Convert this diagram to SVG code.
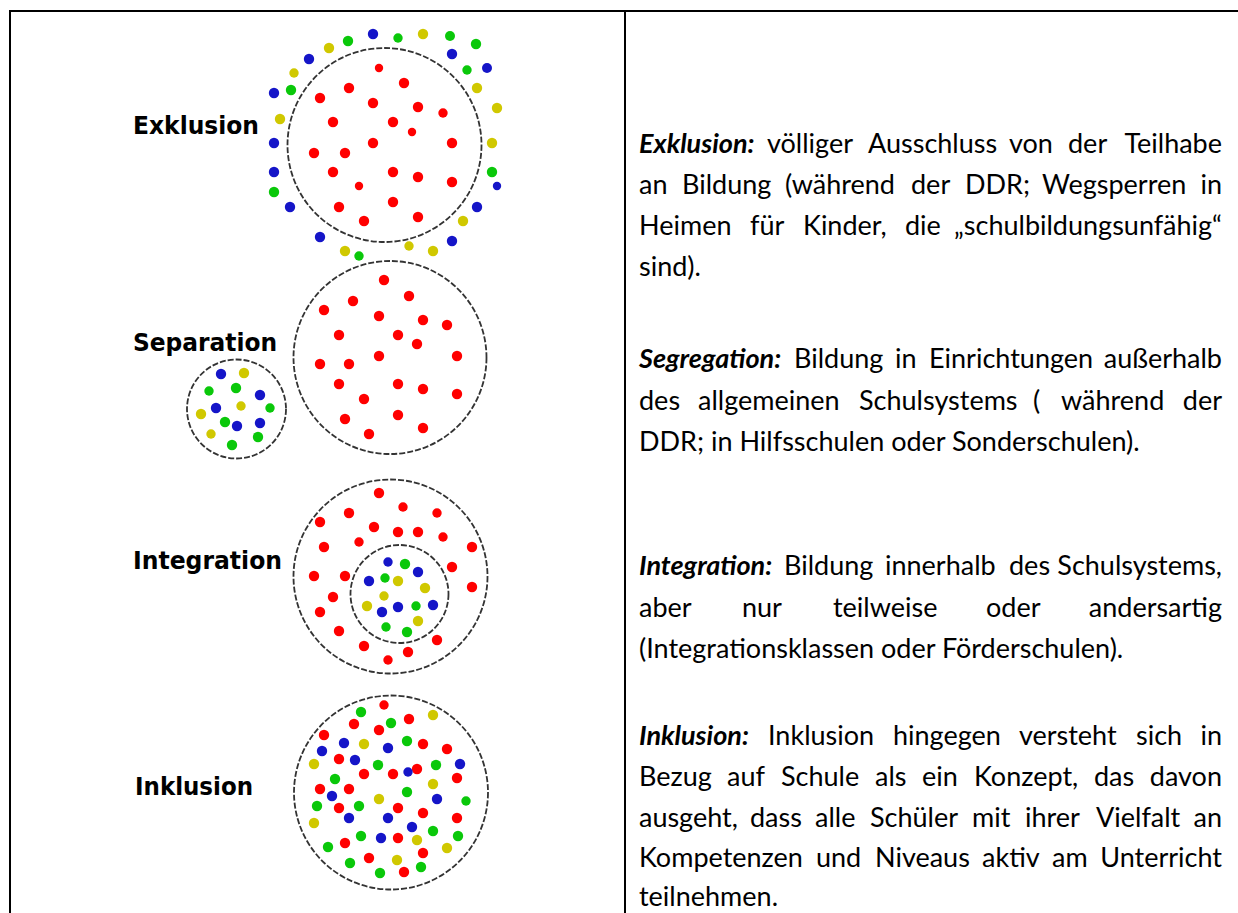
<svg xmlns="http://www.w3.org/2000/svg" width="1238" height="913" viewBox="0 0 1238 913">
<style>
.r{fill:#ff0000}.b{fill:#1515c8}.g{fill:#0ac80a}.y{fill:#d0c800}
.ring{fill:none;stroke:#333;stroke-width:1.8;stroke-dasharray:6 2}
.lbl{font-family:"DejaVu Sans","Liberation Sans",sans-serif;font-weight:bold;font-size:24px;fill:#000}
.t{font-family:Lato,"Open Sans","Liberation Sans",sans-serif;font-size:27px;fill:#000}
.bi{font-weight:bold;font-style:italic}
.grid{stroke:#000;stroke-width:2;fill:none}
</style>
<g id="table" class="grid">
<path d="M9 11H1238M10 10V913M625 10V913"/>
</g>
<g id="connectors"></g>

<g id="exklusion">
<text class="lbl" x="133" y="134" textLength="126" lengthAdjust="spacingAndGlyphs">Exklusion</text>
<circle class="ring" cx="384.5" cy="145" r="97"/>
<g>
<circle class="b" cx="373" cy="34" r="5.2"/><circle class="b" cx="309" cy="59" r="5.2"/><circle class="b" cx="274" cy="93" r="5.2"/><circle class="b" cx="274" cy="143" r="5.2"/><circle class="b" cx="274" cy="172" r="5.2"/><circle class="b" cx="290" cy="207" r="5.2"/><circle class="b" cx="320" cy="237" r="5.2"/><circle class="b" cx="452" cy="54" r="5.2"/><circle class="b" cx="487" cy="68" r="5"/><circle class="b" cx="497" cy="186" r="4.2"/><circle class="b" cx="477" cy="207" r="5.2"/><circle class="b" cx="452" cy="241" r="5.2"/>
<circle class="g" cx="348" cy="41" r="5.2"/><circle class="g" cx="291" cy="90" r="5.2"/><circle class="g" cx="274" cy="192" r="5.2"/><circle class="g" cx="359" cy="256" r="4.7"/><circle class="g" cx="398" cy="38" r="4.7"/><circle class="g" cx="450" cy="36" r="5"/><circle class="g" cx="476" cy="44" r="5.2"/><circle class="g" cx="467" cy="70" r="4.7"/><circle class="g" cx="492" cy="172" r="5.2"/>
<circle class="y" cx="329" cy="48" r="5.2"/><circle class="y" cx="294" cy="73" r="4.7"/><circle class="y" cx="280" cy="119" r="5.2"/><circle class="y" cx="345" cy="251" r="5.2"/><circle class="y" cx="423" cy="34" r="5.2"/><circle class="y" cx="477" cy="88" r="5.2"/><circle class="y" cx="497" cy="108" r="5.2"/><circle class="y" cx="492" cy="143" r="5.2"/><circle class="y" cx="463" cy="221" r="5.2"/><circle class="y" cx="433" cy="251" r="5.2"/><circle class="y" cx="409" cy="246" r="4.7"/>
<circle class="r" cx="379" cy="68" r="4.2"/><circle class="r" cx="404" cy="83" r="5.2"/><circle class="r" cx="349" cy="88" r="5.2"/><circle class="r" cx="320" cy="98" r="5.2"/><circle class="r" cx="373" cy="103" r="5.2"/><circle class="r" cx="418" cy="107" r="5.2"/><circle class="r" cx="443" cy="113" r="4.7"/><circle class="r" cx="333" cy="122" r="5.2"/><circle class="r" cx="393" cy="122" r="5.2"/><circle class="r" cx="412" cy="132" r="4.2"/><circle class="r" cx="373" cy="143" r="5.2"/><circle class="r" cx="452" cy="143" r="5.2"/><circle class="r" cx="314" cy="153" r="5.2"/><circle class="r" cx="345" cy="153" r="5.2"/><circle class="r" cx="333" cy="172" r="5.2"/><circle class="r" cx="393" cy="172" r="5.2"/><circle class="r" cx="418" cy="177" r="5.2"/><circle class="r" cx="452" cy="182" r="5.2"/><circle class="r" cx="359" cy="186" r="4.2"/><circle class="r" cx="339" cy="207" r="5.2"/><circle class="r" cx="393" cy="202" r="5.2"/><circle class="r" cx="364" cy="221" r="5.2"/><circle class="r" cx="418" cy="217" r="5.2"/>
</g>
</g>

<g id="separation">
<text class="lbl" x="133" y="351" textLength="144" lengthAdjust="spacingAndGlyphs">Separation</text>
<circle class="ring" cx="390" cy="357.5" r="96.5"/>
<circle class="ring" cx="236.5" cy="409" r="49.5"/>
<g>
<circle class="r" cx="384" cy="280" r="5.2"/><circle class="r" cx="353" cy="301" r="5.2"/><circle class="r" cx="409" cy="296" r="5.2"/><circle class="r" cx="324" cy="310" r="5.2"/><circle class="r" cx="379" cy="316" r="5.2"/><circle class="r" cx="423" cy="320" r="5.2"/><circle class="r" cx="447" cy="325" r="5.2"/><circle class="r" cx="339" cy="335" r="5.2"/><circle class="r" cx="398" cy="335" r="5.2"/><circle class="r" cx="417" cy="344" r="5.2"/><circle class="r" cx="379" cy="356" r="5.2"/><circle class="r" cx="457" cy="356" r="5.2"/><circle class="r" cx="320" cy="364" r="5.2"/><circle class="r" cx="349" cy="364" r="5.2"/><circle class="r" cx="339" cy="384" r="5.2"/><circle class="r" cx="398" cy="384" r="5.2"/><circle class="r" cx="423" cy="389" r="5.2"/><circle class="r" cx="457" cy="394" r="5.2"/><circle class="r" cx="364" cy="399" r="5.2"/><circle class="r" cx="345" cy="419" r="5.2"/><circle class="r" cx="398" cy="415" r="5.2"/><circle class="r" cx="423" cy="428" r="5.2"/><circle class="r" cx="369" cy="434" r="5.2"/>
<circle class="b" cx="221" cy="374" r="5.2"/><circle class="y" cx="244" cy="373" r="5.2"/><circle class="g" cx="209" cy="391" r="4.7"/><circle class="g" cx="236" cy="388" r="5.2"/><circle class="b" cx="260" cy="395" r="5.2"/><circle class="b" cx="216" cy="408" r="5.2"/><circle class="y" cx="241" cy="406" r="4.7"/><circle class="g" cx="270" cy="408" r="4.7"/><circle class="y" cx="201" cy="414" r="5.2"/><circle class="g" cx="225" cy="422" r="5.2"/><circle class="b" cx="237" cy="426" r="5.2"/><circle class="b" cx="260" cy="423" r="5.2"/><circle class="y" cx="211" cy="434" r="4.7"/><circle class="g" cx="258" cy="437" r="5.2"/><circle class="g" cx="232" cy="445" r="5.2"/>
</g>
</g>

<g id="integration">
<text class="lbl" x="133" y="569" textLength="149" lengthAdjust="spacingAndGlyphs">Integration</text>
<circle class="ring" cx="390.5" cy="576.5" r="97"/>
<circle class="ring" cx="399.5" cy="594" r="49"/>
<g>
<circle class="r" cx="379" cy="493" r="5.2"/><circle class="r" cx="349" cy="513" r="5.2"/><circle class="r" cx="403" cy="507" r="4.7"/><circle class="r" cx="437" cy="513" r="4.7"/><circle class="r" cx="320" cy="522" r="5.2"/><circle class="r" cx="374" cy="527" r="5.2"/><circle class="r" cx="398" cy="532" r="5.2"/><circle class="r" cx="418" cy="532" r="5.2"/><circle class="r" cx="443" cy="537" r="4.7"/><circle class="r" cx="359" cy="542" r="4.7"/><circle class="r" cx="324" cy="547" r="5.2"/><circle class="r" cx="472" cy="547" r="5.2"/><circle class="r" cx="452" cy="567" r="5.2"/><circle class="r" cx="314" cy="576" r="5.2"/><circle class="r" cx="345" cy="576" r="5.2"/><circle class="r" cx="472" cy="587" r="5.2"/><circle class="r" cx="333" cy="597" r="5.2"/><circle class="r" cx="320" cy="612" r="5.2"/><circle class="r" cx="339" cy="631" r="5.2"/><circle class="r" cx="437" cy="640" r="5.2"/><circle class="r" cx="364" cy="646" r="5.2"/><circle class="r" cx="408" cy="652" r="5.2"/><circle class="r" cx="388" cy="660" r="4.7"/>
<circle class="b" cx="388" cy="562" r="4.7"/><circle class="g" cx="405" cy="564" r="5.2"/><circle class="b" cx="418" cy="572" r="5.2"/><circle class="b" cx="369" cy="581" r="5.2"/><circle class="g" cx="385" cy="578" r="4.7"/><circle class="y" cx="398" cy="581" r="5.2"/><circle class="y" cx="425" cy="588" r="5.2"/><circle class="y" cx="384" cy="596" r="4.7"/><circle class="y" cx="367" cy="606" r="5.2"/><circle class="b" cx="398" cy="607" r="5.2"/><circle class="g" cx="416" cy="606" r="4.7"/><circle class="b" cx="433" cy="605" r="5.2"/><circle class="b" cx="382" cy="612" r="5.2"/><circle class="y" cx="418" cy="621" r="5.2"/><circle class="g" cx="386" cy="627" r="4.7"/><circle class="g" cx="407" cy="632" r="5.2"/>
</g>
</g>

<g id="inklusion">
<text class="lbl" x="135" y="795" textLength="118" lengthAdjust="spacingAndGlyphs">Inklusion</text>
<circle class="ring" cx="391" cy="792.5" r="97"/>
<g>
<circle class="g" cx="361" cy="712" r="5.2"/><circle class="r" cx="384" cy="705" r="4.7"/><circle class="r" cx="354" cy="724" r="5.2"/><circle class="g" cx="391" cy="723" r="5.2"/><circle class="r" cx="409" cy="719" r="5.2"/><circle class="y" cx="433" cy="715" r="5.2"/><circle class="r" cx="324" cy="735" r="5.2"/><circle class="r" cx="379" cy="730" r="5.2"/><circle class="b" cx="344" cy="743" r="5.2"/><circle class="y" cx="364" cy="744" r="5.2"/><circle class="g" cx="407" cy="741" r="5.2"/><circle class="r" cx="423" cy="744" r="5.2"/><circle class="r" cx="447" cy="749" r="5.2"/><circle class="b" cx="322" cy="751" r="5.2"/><circle class="b" cx="388" cy="748" r="5.2"/><circle class="r" cx="339" cy="759" r="5.2"/><circle class="b" cx="355" cy="760" r="5.2"/><circle class="y" cx="314" cy="764" r="5.2"/><circle class="g" cx="378" cy="765" r="5.2"/><circle class="b" cx="460" cy="764" r="5.2"/><circle class="g" cx="436" cy="765" r="5.2"/><circle class="r" cx="417" cy="769" r="5.2"/><circle class="b" cx="408" cy="772" r="4.7"/><circle class="r" cx="364" cy="774" r="5.2"/><circle class="r" cx="393" cy="774" r="5.2"/><circle class="r" cx="457" cy="778" r="5.2"/><circle class="g" cx="335" cy="779" r="5.2"/><circle class="y" cx="433" cy="784" r="5.2"/><circle class="r" cx="320" cy="789" r="5.2"/><circle class="r" cx="349" cy="789" r="5.2"/><circle class="b" cx="332" cy="796" r="5.2"/><circle class="g" cx="407" cy="792" r="5.2"/><circle class="b" cx="437" cy="799" r="5.2"/><circle class="y" cx="379" cy="799" r="5.2"/><circle class="g" cx="466" cy="801" r="4.7"/><circle class="g" cx="317" cy="806" r="5.2"/><circle class="r" cx="339" cy="808" r="5.2"/><circle class="g" cx="359" cy="806" r="5.2"/><circle class="r" cx="398" cy="808" r="5.2"/><circle class="r" cx="423" cy="813" r="5.2"/><circle class="b" cx="349" cy="818" r="5.2"/><circle class="b" cx="388" cy="818" r="5.2"/><circle class="r" cx="457" cy="818" r="5.2"/><circle class="y" cx="314" cy="823" r="5.2"/><circle class="b" cx="412" cy="827" r="5.2"/><circle class="g" cx="433" cy="831" r="5.2"/><circle class="g" cx="361" cy="836" r="5.2"/><circle class="b" cx="381" cy="838" r="5.2"/><circle class="r" cx="398" cy="838" r="5.2"/><circle class="g" cx="458" cy="836" r="5.2"/><circle class="y" cx="417" cy="840" r="5.2"/><circle class="r" cx="345" cy="843" r="5.2"/><circle class="g" cx="328" cy="847" r="5.2"/><circle class="y" cx="447" cy="848" r="5.2"/><circle class="r" cx="423" cy="853" r="5.2"/><circle class="r" cx="369" cy="858" r="5.2"/><circle class="y" cx="397" cy="860" r="5.2"/><circle class="g" cx="350" cy="863" r="5.2"/><circle class="g" cx="421" cy="867" r="5.2"/><circle class="g" cx="380" cy="873" r="5.2"/><circle class="r" cx="404" cy="872" r="5.2"/>
</g>
</g>

<g id="text-exklusion" class="t">
<text y="153"><tspan x="639" class="bi">Exklusion:</tspan><tspan x="767">völliger</tspan><tspan x="868">Ausschluss</tspan><tspan x="1009">von</tspan><tspan x="1068">der</tspan><tspan x="1222" text-anchor="end">Teilhabe</tspan></text>
<text y="194"><tspan x="639">an</tspan><tspan x="682">Bildung</tspan><tspan x="785">(während</tspan><tspan x="911">der</tspan><tspan x="965">DDR;</tspan><tspan x="1042">Wegsperren</tspan><tspan x="1222" text-anchor="end">in</tspan></text>
<text y="235"><tspan x="639">Heimen</tspan><tspan x="750">für</tspan><tspan x="803">Kinder,</tspan><tspan x="905">die</tspan><tspan x="1222" text-anchor="end">„schulbildungsunfähig“</tspan></text>
<text x="639" y="276">sind).</text>
</g>

<g id="text-segregation" class="t">
<text y="368"><tspan x="639" class="bi">Segregation:</tspan><tspan x="794">Bildung</tspan><tspan x="895">in</tspan><tspan x="929">Einrichtungen</tspan><tspan x="1222" text-anchor="end">außerhalb</tspan></text>
<text y="410"><tspan x="639">des</tspan><tspan x="698">allgemeinen</tspan><tspan x="859">Schulsystems</tspan><tspan x="1033">(</tspan><tspan x="1061">während</tspan><tspan x="1222" text-anchor="end">der</tspan></text>
<text x="639" y="451">DDR; in Hilfsschulen oder Sonderschulen).</text>
</g>

<g id="text-integration" class="t">
<text y="575"><tspan x="639" class="bi">Integration:</tspan><tspan x="784">Bildung</tspan><tspan x="885">innerhalb</tspan><tspan x="1009">des</tspan><tspan x="1222" text-anchor="end">Schulsystems,</tspan></text>
<text y="617"><tspan x="639">aber</tspan><tspan x="742">nur</tspan><tspan x="833">teilweise</tspan><tspan x="986">oder</tspan><tspan x="1222" text-anchor="end">andersartig</tspan></text>
<text x="639" y="658">(Integrationsklassen oder Förderschulen).</text>
</g>

<g id="text-inklusion" class="t">
<text y="745"><tspan x="639" class="bi">Inklusion:</tspan><tspan x="768">Inklusion</tspan><tspan x="893">hingegen</tspan><tspan x="1019">versteht</tspan><tspan x="1136">sich</tspan><tspan x="1222" text-anchor="end">in</tspan></text>
<text y="786"><tspan x="639">Bezug</tspan><tspan x="727">auf</tspan><tspan x="781">Schule</tspan><tspan x="875">als</tspan><tspan x="922">ein</tspan><tspan x="974">Konzept,</tspan><tspan x="1094">das</tspan><tspan x="1222" text-anchor="end">davon</tspan></text>
<text y="827"><tspan x="639">ausgeht,</tspan><tspan x="750">dass</tspan><tspan x="815">alle</tspan><tspan x="870">Schüler</tspan><tspan x="972">mit</tspan><tspan x="1025">ihrer</tspan><tspan x="1096">Vielfalt</tspan><tspan x="1222" text-anchor="end">an</tspan></text>
<text y="867"><tspan x="639">Kompetenzen</tspan><tspan x="816">und</tspan><tspan x="875">Niveaus</tspan><tspan x="982">aktiv</tspan><tspan x="1052">am</tspan><tspan x="1222" text-anchor="end">Unterricht</tspan></text>
<text x="639" y="906">teilnehmen.</text>
</g>
</svg>
